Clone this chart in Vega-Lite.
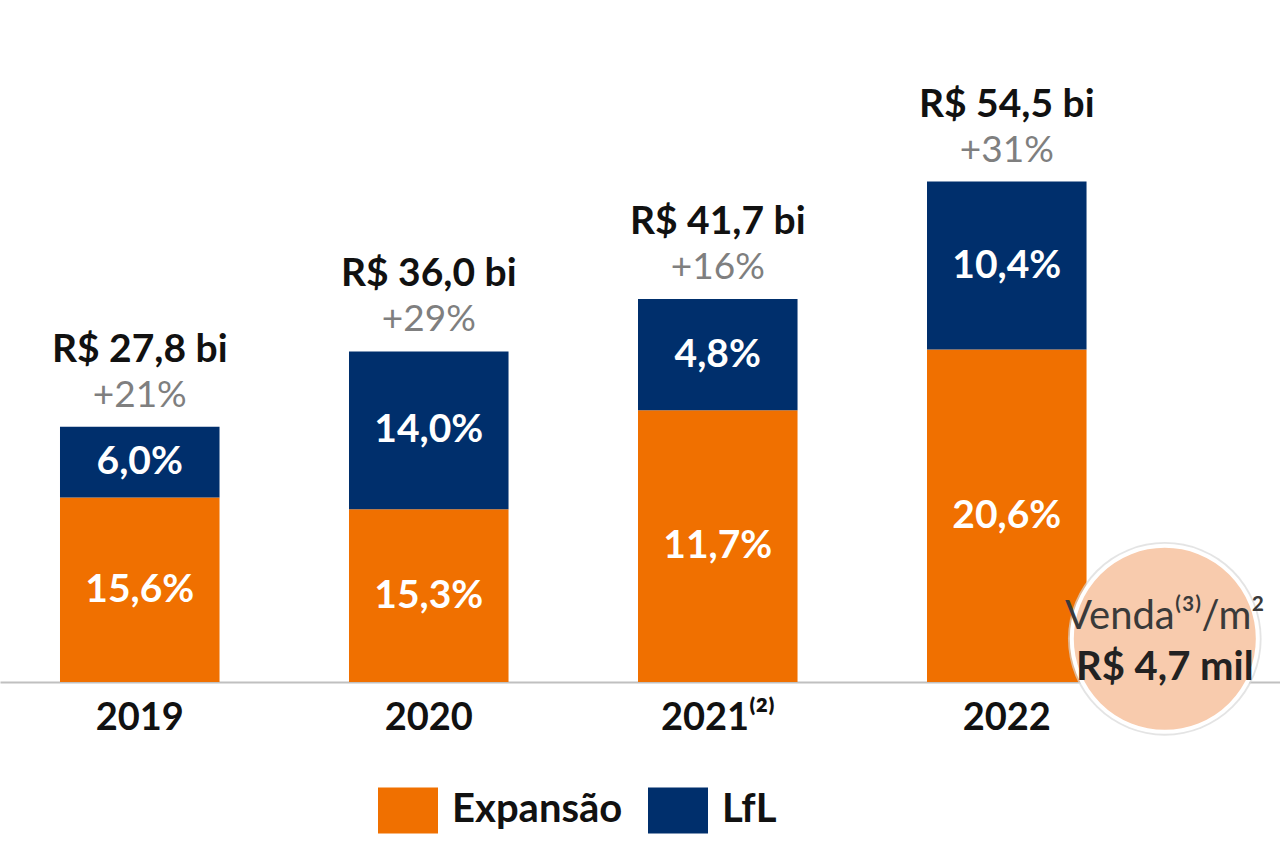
{
  "$schema": "https://vega.github.io/schema/vega-lite/v6.json",
  "width": 1280,
  "height": 551,
  "autosize": {"type": "none"},
  "padding": {"left": 0, "top": 131, "right": 0, "bottom": 185},
  "background": "white",
  "config": {"view": {"stroke": null}, "font": "Lato"},
  "datasets": {
    "segments": [
      {"year": "2019", "segment": "Expansão", "value": 20.1, "label": "15,6%"},
      {"year": "2019", "segment": "LfL", "value": 7.7, "label": "6,0%"},
      {"year": "2020", "segment": "Expansão", "value": 18.8, "label": "15,3%"},
      {"year": "2020", "segment": "LfL", "value": 17.2, "label": "14,0%"},
      {"year": "2021⁽²⁾", "segment": "Expansão", "value": 29.6, "label": "11,7%"},
      {"year": "2021⁽²⁾", "segment": "LfL", "value": 12.1, "label": "4,8%"},
      {"year": "2022", "segment": "Expansão", "value": 36.2, "label": "20,6%"},
      {"year": "2022", "segment": "LfL", "value": 18.3, "label": "10,4%"}
    ],
    "totals": [
      {"year": "2019", "total": 27.8, "title": "R$ 27,8 bi", "growth": "+21%"},
      {"year": "2020", "total": 36.0, "title": "R$ 36,0 bi", "growth": "+29%"},
      {"year": "2021⁽²⁾", "total": 41.7, "title": "R$ 41,7 bi", "growth": "+16%"},
      {"year": "2022", "total": 54.5, "title": "R$ 54,5 bi", "growth": "+31%"}
    ],
    "note": [
      {"xpos": 91.0, "pos": 4.7, "line1": "Venda⁽³⁾/m²", "line2": "R$ 4,7 mil"}
    ]
  },
  "resolve": {"scale": {"x": "independent"}},
  "layer": [
    {
      "encoding": {
        "x": {
          "field": "year",
          "type": "nominal",
          "sort": ["2019", "2020", "2021⁽²⁾", "2022"],
          "scale": {"paddingInner": 0.448, "paddingOuter": 0.4385, "align": 0.2367},
          "axis": {
            "title": null,
            "labelAngle": 0,
            "domainColor": "#c0c0c0",
            "domainWidth": 2,
            "ticks": false,
            "grid": false,
            "labelFont": "Lato",
            "labelFontSize": 38,
            "labelFontWeight": "bold",
            "labelColor": "#111111",
            "labelPadding": 17
          }
        }
      },
      "layer": [
        {
          "data": {"name": "segments"},
          "mark": {"type": "bar"},
          "encoding": {
            "y": {"field": "value", "type": "quantitative", "stack": "zero", "scale": {"domain": [0, 60]}, "axis": null},
            "order": {"field": "segment", "sort": "ascending"},
            "color": {
              "field": "segment",
              "type": "nominal",
              "scale": {"domain": ["Expansão", "LfL"], "range": ["#f07000", "#002f6c"]},
              "legend": {
                "orient": "none",
                "legendX": 378,
                "legendY": 649,
                "direction": "horizontal",
                "title": null,
                "padding": 0,
                "symbolType": "M-1,-0.767H1V0.767H-1Z",
                "symbolSize": 3600,
                "symbolStrokeWidth": 0,
                "symbolOpacity": 1,
                "labelFont": "Lato",
                "labelFontSize": 40,
                "labelFontWeight": "bold",
                "labelColor": "#111111",
                "labelLimit": 400,
                "labelOffset": 14,
                "columnPadding": 25
              }
            }
          }
        },
        {
          "data": {"name": "segments"},
          "mark": {"type": "text", "font": "Lato", "fontSize": 39, "fontWeight": "bold", "color": "white", "baseline": "middle"},
          "encoding": {
            "y": {"field": "value", "type": "quantitative", "stack": "zero", "bandPosition": 0.5},
            "order": {"field": "segment", "sort": "ascending"},
            "detail": {"field": "segment"},
            "text": {"field": "label"}
          }
        },
        {
          "data": {"name": "totals"},
          "mark": {"type": "text", "font": "Lato", "fontSize": 39, "fontWeight": "bold", "color": "#111111", "baseline": "middle", "dy": -77},
          "encoding": {
            "y": {"field": "total", "type": "quantitative"},
            "text": {"field": "title"}
          }
        },
        {
          "data": {"name": "totals"},
          "mark": {"type": "text", "font": "Lato", "fontSize": 37, "color": "#7f7f7f", "baseline": "middle", "dy": -31},
          "encoding": {
            "y": {"field": "total", "type": "quantitative"},
            "text": {"field": "growth"}
          }
        }
      ]
    },
    {
      "data": {"name": "note"},
      "encoding": {
        "x": {"field": "xpos", "type": "quantitative", "scale": {"domain": [0, 100]}, "axis": null},
        "y": {"field": "pos", "type": "quantitative"}
      },
      "layer": [
        {
          "mark": {"type": "point", "shape": "circle", "filled": true, "fill": "#d9d9d9", "opacity": 0.7, "size": 37500}
        },
        {
          "mark": {"type": "point", "shape": "circle", "filled": true, "fill": "#f8cbad", "stroke": "white", "strokeWidth": 4, "opacity": 1, "size": 34600}
        },
        {
          "mark": {"type": "text", "font": "Lato", "fontSize": 40, "color": "#3a3a3a", "baseline": "middle", "dy": -22},
          "encoding": {"text": {"field": "line1"}}
        },
        {
          "mark": {"type": "text", "font": "Lato", "fontSize": 40, "fontWeight": "bold", "color": "#222222", "baseline": "middle", "dy": 29},
          "encoding": {"text": {"field": "line2"}}
        }
      ]
    }
  ]
}
